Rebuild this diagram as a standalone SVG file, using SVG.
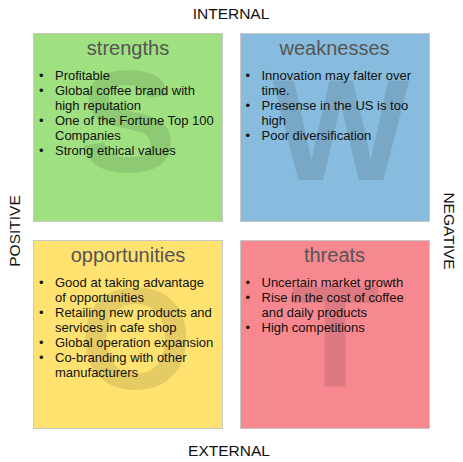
<svg xmlns="http://www.w3.org/2000/svg" width="463" height="462" viewBox="0 0 463 462">
<style>
.box{stroke:#c8c8c8;stroke-width:1}
.wm{font-family:"Liberation Sans",Arial,sans-serif;font-weight:bold;font-size:145px;fill:#000;fill-opacity:0.1;text-anchor:middle}
.ttl{font-family:"Liberation Sans",Arial,sans-serif;font-size:20px;fill:#555;text-anchor:middle}
.li{font-family:"Liberation Sans",Arial,sans-serif;font-size:13px;fill:#111}
.ax{font-family:"Liberation Sans",Arial,sans-serif;font-size:15.5px;fill:#111;text-anchor:middle}
</style>
<rect width="463" height="462" fill="#fff"/>
<g id="strengths">
<rect class="box" x="33.5" y="33.5" width="189" height="188" fill="#9fe081"/>
<text class="wm" x="128" y="172">S</text>
<text class="ttl" x="128" y="54.5">strengths</text>
<g class="li">
<text x="39" y="80">•</text><text x="55" y="80">Profitable</text>
<text x="39" y="95">•</text><text x="55" y="95">Global coffee brand with</text>
<text x="55" y="110">high reputation</text>
<text x="39" y="125">•</text><text x="55" y="125">One of the Fortune Top 100</text>
<text x="55" y="140">Companies</text>
<text x="39" y="155">•</text><text x="55" y="155">Strong ethical values</text>
</g>
</g>
<g id="weaknesses">
<rect class="box" x="240.5" y="33.5" width="189" height="188" fill="#87bcde"/>
<text class="wm" x="341" y="180">W</text>
<text class="ttl" x="334.5" y="54.5">weaknesses</text>
<g class="li">
<text x="245.5" y="80">•</text><text x="261.5" y="80">Innovation may falter over</text>
<text x="261.5" y="95">time.</text>
<text x="245.5" y="110">•</text><text x="261.5" y="110">Presense in the US is too</text>
<text x="261.5" y="125">high</text>
<text x="245.5" y="140">•</text><text x="261.5" y="140">Poor diversification</text>
</g>
</g>
<g id="opportunities">
<rect class="box" x="33.5" y="240.5" width="189" height="188" fill="#ffe26f"/>
<text class="wm" x="136" y="389">O</text>
<text class="ttl" x="128" y="261.5">opportunities</text>
<g class="li">
<text x="39" y="287">•</text><text x="55" y="287">Good at taking advantage</text>
<text x="55" y="302">of opportunities</text>
<text x="39" y="317">•</text><text x="55" y="317">Retailing new products and</text>
<text x="55" y="332">services in cafe shop</text>
<text x="39" y="347">•</text><text x="55" y="347">Global operation expansion</text>
<text x="39" y="362">•</text><text x="55" y="362">Co-branding with other</text>
<text x="55" y="377">manufacturers</text>
</g>
</g>
<g id="threats">
<rect class="box" x="240.5" y="240.5" width="189" height="188" fill="#f78890"/>
<text class="wm" x="335" y="387">T</text>
<text class="ttl" x="334.5" y="261.5">threats</text>
<g class="li">
<text x="245.5" y="287">•</text><text x="261.5" y="287">Uncertain market growth</text>
<text x="245.5" y="302">•</text><text x="261.5" y="302">Rise in the cost of coffee</text>
<text x="261.5" y="317">and daily products</text>
<text x="245.5" y="332">•</text><text x="261.5" y="332">High competitions</text>
</g>
</g>
<g id="axes">
<text class="ax" x="231" y="19">INTERNAL</text>
<text class="ax" x="229" y="455.5">EXTERNAL</text>
<text class="ax" transform="translate(20,231) rotate(-90)">POSITIVE</text>
<text class="ax" transform="translate(443.5,231) rotate(90)">NEGATIVE</text>
</g>
<g id="connectors"/>
</svg>
